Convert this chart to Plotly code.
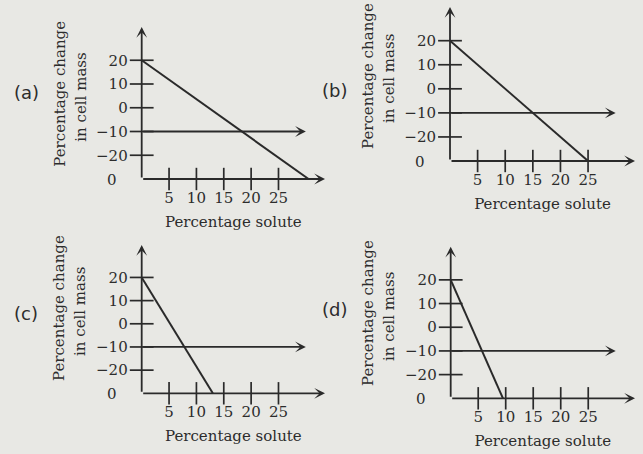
import plotly.graph_objects as go

# Four sketch graphs: percentage change in cell mass vs percentage solute
panel_labels = ["(a)", "(b)", "(c)", "(d)"]
line_start_y = 20          # every line starts at +20 % on the y-axis
line_end_y = -30           # ...and runs down to the x-axis
line_end_x = [30.5, 25, 13, 9.5]   # solute % where each line meets the x-axis
threshold_y = -10          # horizontal reference line
threshold_end_x = 30

y_tick_vals = [20, 10, 0, -10, -20]
y_tick_text = ["20", "10", "0", "\u221210", "\u221220"]
x_tick_vals = [5, 10, 15, 20, 25]
x_tick_text = ["5", "10", "15", "20", "25"]
origin_label = "0"

x_title = "Percentage solute"
y_title_lines = ["Percentage change", "in cell mass"]

X_MAX = 33.5
Y_MAX = 34
Y_FLOOR = -30

W, H = 643, 454
INK = "#2a2a2a"
TEXT = "#2c2c2c"
BG = "#e8e8e4"
SERIF = "DejaVu Serif"

# pixel frame of each panel: origin (ox, oy), x-arrow tip, y-arrow tip
frames = [
    (141.7, 179.0, 325.0, 27.0),
    (450.0, 161.0, 635.0, 7.0),
    (141.7, 393.3, 325.0, 245.0),
    (450.7, 398.3, 635.0, 246.7),
]

fig = go.Figure()
annotations = []

for i, (ox, oy, xr, yt) in enumerate(frames):
    n = i + 1
    xa = "x" if n == 1 else f"x{n}"
    ya = "y" if n == 1 else f"y{n}"
    xkey = "xaxis" if n == 1 else f"xaxis{n}"
    ykey = "yaxis" if n == 1 else f"yaxis{n}"

    fig.update_layout({
        xkey: dict(
            domain=[ox / W, xr / W], anchor=ya, range=[0, X_MAX],
            showgrid=False, zeroline=False, showline=False, ticks="",
            tickvals=x_tick_vals, ticktext=x_tick_text,
            tickfont=dict(family=SERIF, size=15, color=TEXT),
            ticklabelstandoff=8,
            title=dict(text=x_title, standoff=10,
                       font=dict(family=SERIF, size=15, color=TEXT)),
            fixedrange=True,
        ),
        ykey: dict(
            domain=[1 - oy / H, 1 - yt / H], anchor=xa, range=[Y_FLOOR, Y_MAX],
            showgrid=False, zeroline=False, showline=False, ticks="",
            tickvals=y_tick_vals, ticktext=y_tick_text,
            tickfont=dict(family=SERIF, size=15, color=TEXT),
            ticklabelstandoff=13,
            fixedrange=True,
        ),
    })

    # sloping response line
    fig.add_trace(go.Scatter(
        x=[0, line_end_x[i]], y=[line_start_y, line_end_y],
        mode="lines", line=dict(color=INK, width=2),
        xaxis=xa, yaxis=ya, hoverinfo="skip", showlegend=False,
    ))
    # crossing tick marks on both axes
    fig.add_trace(go.Scatter(
        x=x_tick_vals, y=[Y_FLOOR] * len(x_tick_vals), mode="markers",
        marker=dict(symbol="line-ns", size=16, line=dict(color=INK, width=1.7)),
        xaxis=xa, yaxis=ya, cliponaxis=False, hoverinfo="skip", showlegend=False,
    ))
    fig.add_trace(go.Scatter(
        x=[0] * len(y_tick_vals), y=y_tick_vals, mode="markers",
        marker=dict(symbol="line-ew", size=17, line=dict(color=INK, width=1.7)),
        xaxis=xa, yaxis=ya, cliponaxis=False, hoverinfo="skip", showlegend=False,
    ))

    arrow = dict(xref=xa, yref=ya, axref=xa, ayref=ya, text="", showarrow=True,
                 arrowhead=3, arrowsize=1, arrowwidth=1.8, arrowcolor=INK,
                 standoff=0, startstandoff=0)
    # y-axis, x-axis and the -10 reference line, each ending in an arrow
    annotations.append(dict(arrow, x=0, y=Y_MAX, ax=0, ay=Y_FLOOR))
    annotations.append(dict(arrow, x=X_MAX, y=Y_FLOOR, ax=0, ay=Y_FLOOR))
    annotations.append(dict(arrow, x=threshold_end_x, y=threshold_y, ax=0, ay=threshold_y))

    # "0" at the origin corner
    annotations.append(dict(
        xref=xa, yref=ya, x=0, y=Y_FLOOR, text=origin_label, showarrow=False,
        xanchor="right", xshift=-23, yshift=-1,
        font=dict(family=SERIF, size=15, color=TEXT),
    ))

    # two-line rotated y title
    mid = oy - 85
    annotations.append(dict(
        xref="paper", yref="paper", x=(ox - 82) / W, y=1 - mid / H,
        text=y_title_lines[0], textangle=-90, showarrow=False,
        xanchor="center", yanchor="middle",
        font=dict(family=SERIF, size=15, color=TEXT),
    ))
    annotations.append(dict(
        xref="paper", yref="paper", x=(ox - 61) / W, y=1 - (mid + 3) / H,
        text=y_title_lines[1], textangle=-90, showarrow=False,
        xanchor="center", yanchor="middle",
        font=dict(family=SERIF, size=15, color=TEXT),
    ))

# panel letters
letter_pos = [(26, 92), (334, 90), (26, 313), (334, 309)]
for lab, (lx, ly) in zip(panel_labels, letter_pos):
    annotations.append(dict(
        xref="paper", yref="paper", x=lx / W, y=1 - ly / H, text=lab,
        showarrow=False, xanchor="center", yanchor="middle",
        font=dict(family="DejaVu Sans", size=18, color=TEXT),
    ))

fig.update_layout(
    width=W, height=H, margin=dict(l=0, r=0, t=0, b=0),
    paper_bgcolor=BG, plot_bgcolor=BG,
    annotations=annotations, showlegend=False,
)

fig.write_html("out.html", config={"displayModeBar": False})
